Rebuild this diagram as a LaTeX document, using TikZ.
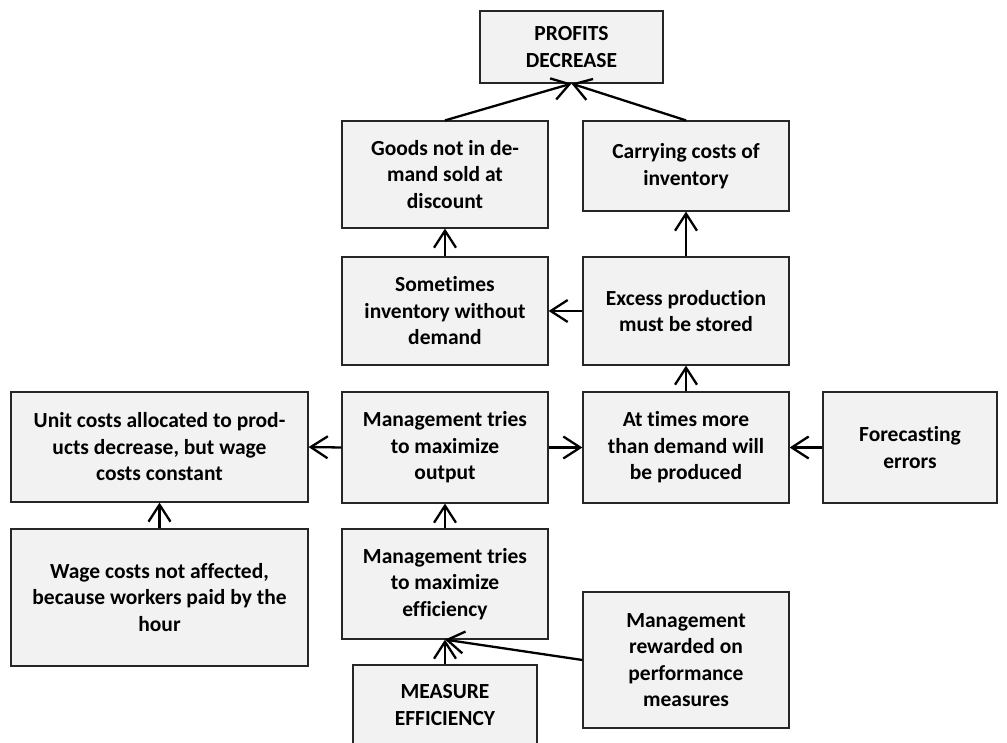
\documentclass[tikz,border=0pt]{standalone}
\usepackage{fontspec}
\setmainfont{Carlito}[Ligatures=NoCommon]
\usetikzlibrary{arrows.meta}
\definecolor{boxfill}{HTML}{F2F2F2}
\begin{document}
\begin{tikzpicture}[x=1pt,y=-1pt,
  box/.style={draw=black!85,line width=1.2pt,fill=boxfill,rectangle,inner sep=0pt,
    align=center,font=\fontsize{21.5}{26.5}\selectfont\bfseries},
  link/.style={line width=2.3pt,-{Straight Barb[length=17pt,width=22pt,line width=2.3pt]}}]
\fill[white] (0,0) rectangle (1007,743);
\clip (0,0) rectangle (1007,743);
% boxes: center, width, height
\node[box,minimum width=183pt,minimum height=72pt] (profits) at (571.5,47) {PROFITS\\DECREASE};
\node[box,minimum width=206pt,minimum height=107pt] (goods) at (445,174.5) {Goods not in de-\\mand sold at\\discount};
\node[box,minimum width=206pt,minimum height=90pt] (carry) at (686,166) {Carrying costs of\\inventory};
\node[box,minimum width=206pt,minimum height=108pt] (some) at (445,311) {Sometimes\\inventory without\\demand};
\node[box,minimum width=206pt,minimum height=108pt] (excess) at (686,311) {Excess production\\must be stored};
\node[box,minimum width=297pt,minimum height=110pt] (unit) at (159.5,447) {Unit costs allocated to prod-\\ucts decrease, but wage\\costs constant};
\node[box,minimum width=206pt,minimum height=111pt] (output) at (445,447.5) {Management tries\\to maximize\\output};
\node[box,minimum width=206pt,minimum height=111pt] (attimes) at (686,447.5) {At times more\\than demand will\\be produced};
\node[box,minimum width=174pt,minimum height=111pt] (forecast) at (910,447.5) {Forecasting\\errors};
\node[box,minimum width=297pt,minimum height=137pt] (wage) at (159.5,597.5) {Wage costs not affected,\\because workers paid by the\\hour};
\node[box,minimum width=206pt,minimum height=110pt] (eff) at (445,584) {Management tries\\to maximize\\efficiency};
\node[box,minimum width=206pt,minimum height=136pt] (reward) at (686,660) {Management\\rewarded on\\performance\\measures};
\node[box,minimum width=184pt,minimum height=80pt] (measure) at (445,705) {MEASURE\\EFFICIENCY};
% cause-effect links
\draw[link] (goods.north) -- (profits.south);
\draw[link] (carry.north) -- (profits.south);
\draw[link] (some.north) -- (goods.south);
\draw[link] (excess.north) -- (carry.south);
\draw[link] (excess.west) -- (some.east);
\draw[link] (attimes.north) -- (excess.south);
\draw[link] (output.west) -- (unit.east);
\draw[link] (output.east) -- (attimes.west);
\draw[link] (forecast.west) -- (attimes.east);
\draw[link] (wage.north) -- (unit.south);
\draw[link] (eff.north) -- (output.south);
\draw[link] (measure.north) -- (eff.south);
\draw[link] (reward.west) -- (eff.south);
\end{tikzpicture}
\end{document}
